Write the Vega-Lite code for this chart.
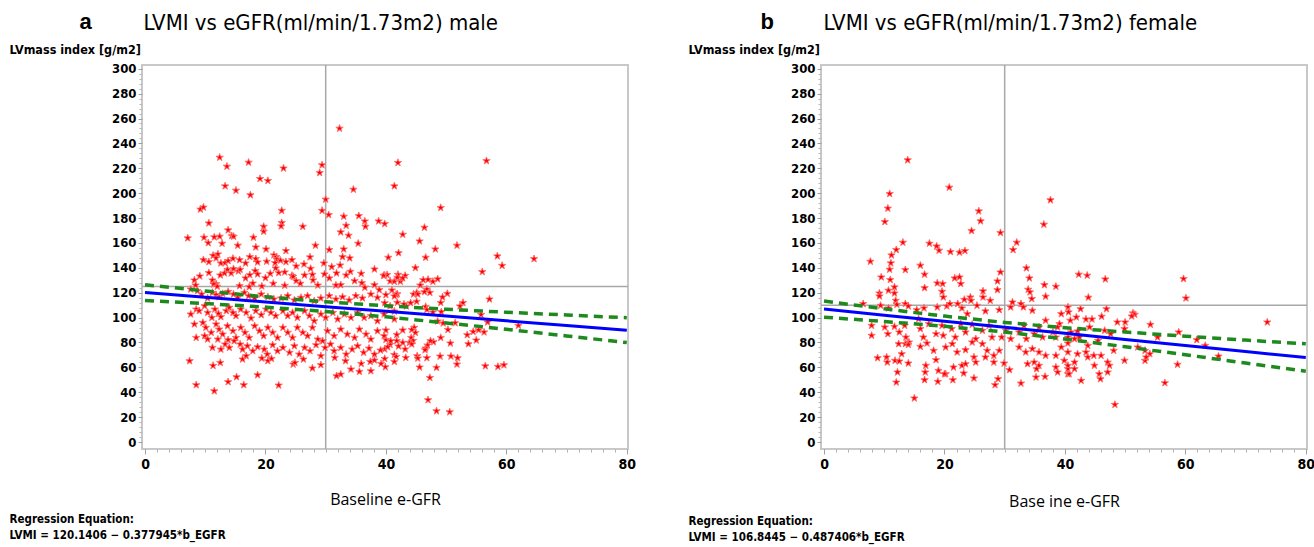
{
  "$schema": "https://vega.github.io/schema/vega-lite/v6.json",
  "background": "white",
  "padding": {"left": 8, "top": 9, "right": 4, "bottom": 2},
  "config": {
    "view": {"stroke": "#c8c8c8", "strokeWidth": 2},
    "axis": {"labelColor": "#000000", "titleColor": "#000000"}
  },
  "datasets": {
    "male": [
      {"egfr":32.3,"lvmi":252},{"egfr":12.4,"lvmi":228.7},{"egfr":13.6,"lvmi":221.5},{"egfr":17.2,"lvmi":224.7},{"egfr":23,"lvmi":220},{"egfr":29.4,"lvmi":222.6},{"egfr":29,"lvmi":216.4},{"egfr":19.1,"lvmi":211.6},{"egfr":20.4,"lvmi":210},{"egfr":13.3,"lvmi":205.7},{"egfr":15.1,"lvmi":202.2},{"egfr":17.5,"lvmi":198.5},{"egfr":34.6,"lvmi":203},{"egfr":42,"lvmi":224.5},{"egfr":41.4,"lvmi":205.7},{"egfr":30,"lvmi":195},{"egfr":9.2,"lvmi":187},{"egfr":9.7,"lvmi":188.6},{"egfr":10.6,"lvmi":175.9},{"egfr":22.7,"lvmi":186},{"egfr":29.4,"lvmi":186},{"egfr":30.5,"lvmi":182.6},{"egfr":33,"lvmi":181.3},{"egfr":35.5,"lvmi":181.8},{"egfr":36.5,"lvmi":177.5},{"egfr":36.6,"lvmi":173.2},{"egfr":33.4,"lvmi":174},{"egfr":38.8,"lvmi":177.5},{"egfr":39.8,"lvmi":175.4},{"egfr":32.5,"lvmi":168.7},{"egfr":33.8,"lvmi":166},{"egfr":35.4,"lvmi":159.6},{"egfr":33,"lvmi":155},{"egfr":30.6,"lvmi":154.5},{"egfr":22.7,"lvmi":176.2},{"egfr":22.6,"lvmi":173.5},{"egfr":26.2,"lvmi":173.2},{"egfr":19.7,"lvmi":173.2},{"egfr":19.7,"lvmi":169.2},{"egfr":13.8,"lvmi":170.3},{"egfr":7.1,"lvmi":163.9},{"egfr":9.8,"lvmi":164.4},{"egfr":10.5,"lvmi":160},{"egfr":11.5,"lvmi":164.7},{"egfr":12.4,"lvmi":165.2},{"egfr":14.4,"lvmi":165.7},{"egfr":14.7,"lvmi":165.2},{"egfr":12.8,"lvmi":159.6},{"egfr":15.4,"lvmi":158},{"egfr":18,"lvmi":164.4},{"egfr":18.4,"lvmi":156.6},{"egfr":20.1,"lvmi":155},{"egfr":23.4,"lvmi":153.7},{"egfr":28.3,"lvmi":158},
      {"egfr":56.7,"lvmi":226},{"egfr":49.1,"lvmi":188.3},{"egfr":46.4,"lvmi":172.4},{"egfr":42.8,"lvmi":166.8},{"egfr":45.6,"lvmi":161.4},{"egfr":48.2,"lvmi":155},{"egfr":51.8,"lvmi":158},{"egfr":42.1,"lvmi":152},{"egfr":40.4,"lvmi":148.3},{"egfr":46.6,"lvmi":148.3},{"egfr":58.5,"lvmi":149.4},{"egfr":64.6,"lvmi":147.2},
      {"egfr":59.3,"lvmi":141.8},{"egfr":44.9,"lvmi":140},{"egfr":56,"lvmi":136.8},{"egfr":39.8,"lvmi":134},{"egfr":40.2,"lvmi":134.4},{"egfr":42,"lvmi":134.6},{"egfr":43.2,"lvmi":133.8},{"egfr":40.7,"lvmi":129.3},{"egfr":41.4,"lvmi":129},{"egfr":42.4,"lvmi":129},{"egfr":42.8,"lvmi":131.7},{"egfr":46.2,"lvmi":130.3},{"egfr":47,"lvmi":130.6},{"egfr":47.8,"lvmi":129},{"egfr":48.6,"lvmi":131},{"egfr":45.7,"lvmi":126},{"egfr":46.8,"lvmi":122.8},{"egfr":47.3,"lvmi":120.1},{"egfr":46.4,"lvmi":120.7},{"egfr":41,"lvmi":122},{"egfr":41.9,"lvmi":119},{"egfr":41.7,"lvmi":118.5},{"egfr":41.4,"lvmi":117.2},{"egfr":44.6,"lvmi":118.8},{"egfr":45.1,"lvmi":120},{"egfr":45.3,"lvmi":118.8},{"egfr":50.2,"lvmi":119.3},{"egfr":49.4,"lvmi":116.4},{"egfr":49.1,"lvmi":112},{"egfr":52.8,"lvmi":112},{"egfr":52.3,"lvmi":109.2},{"egfr":57.2,"lvmi":114.8},{"egfr":45.1,"lvmi":112.9},{"egfr":44.1,"lvmi":111.8},{"egfr":43.4,"lvmi":109.2},{"egfr":43,"lvmi":110.8},{"egfr":39.8,"lvmi":111.8},{"egfr":40.7,"lvmi":109.2},{"egfr":41.4,"lvmi":105.1},{"egfr":46.6,"lvmi":108.8},{"egfr":46.8,"lvmi":106.4},{"egfr":47.8,"lvmi":104.3},{"egfr":49.2,"lvmi":104.6},{"egfr":55.8,"lvmi":102.4},{"egfr":56.9,"lvmi":96.3},{"egfr":62,"lvmi":93.6},{"egfr":51.5,"lvmi":95.7},{"egfr":48.6,"lvmi":97.1},{"egfr":49.5,"lvmi":95.5},{"egfr":50.3,"lvmi":90.3},{"egfr":53.5,"lvmi":86.1},{"egfr":54.5,"lvmi":88.7},{"egfr":55.4,"lvmi":90.1},{"egfr":56.3,"lvmi":88.3},{"egfr":55,"lvmi":81.8},{"egfr":53.7,"lvmi":78.8},{"egfr":50.7,"lvmi":79.4},{"egfr":49.1,"lvmi":83.9},{"egfr":47.9,"lvmi":80.4},{"egfr":47.4,"lvmi":81.3},{"egfr":46.9,"lvmi":77.8},{"egfr":46.6,"lvmi":75.4},{"egfr":46.5,"lvmi":74},{"egfr":44.7,"lvmi":92},{"egfr":44.3,"lvmi":90.3},{"egfr":44.9,"lvmi":87.9},{"egfr":44.2,"lvmi":83.9},{"egfr":44.5,"lvmi":81.5},{"egfr":43.9,"lvmi":79.9},{"egfr":44.3,"lvmi":78.6},{"egfr":42.8,"lvmi":89.9},{"egfr":41.8,"lvmi":86.3},{"egfr":41.8,"lvmi":81.3},{"egfr":42.8,"lvmi":79.9},{"egfr":43.2,"lvmi":74.6},{"egfr":42.1,"lvmi":77},{"egfr":40,"lvmi":89.9},{"egfr":40,"lvmi":82.3},{"egfr":40.7,"lvmi":78.3},{"egfr":39.8,"lvmi":74.6},{"egfr":41.4,"lvmi":70.2},{"egfr":39.8,"lvmi":67},{"egfr":41.7,"lvmi":68.6},{"egfr":39.9,"lvmi":60.3},{"egfr":41.4,"lvmi":64.6},{"egfr":43.3,"lvmi":67.8},{"egfr":45.2,"lvmi":69.2},{"egfr":45.3,"lvmi":67.3},{"egfr":46.8,"lvmi":67.6},{"egfr":45.6,"lvmi":60.1},{"egfr":48.4,"lvmi":59.8},{"egfr":49,"lvmi":68.9},{"egfr":50.8,"lvmi":68.9},{"egfr":51.9,"lvmi":67.6},{"egfr":51.8,"lvmi":62.5},{"egfr":56.5,"lvmi":61.1},{"egfr":58.6,"lvmi":60.6},{"egfr":59.6,"lvmi":61.9},{"egfr":47.3,"lvmi":51.7},{"egfr":47,"lvmi":33.8},{"egfr":48.4,"lvmi":24.9},{"egfr":50.6,"lvmi":24.1},
      {"egfr":32.8,"lvmi":148.8},{"egfr":34,"lvmi":147.8},
      {"egfr":9.7,"lvmi":146.4},{"egfr":10.6,"lvmi":144.8},{"egfr":11.3,"lvmi":149.9},{"egfr":12.1,"lvmi":151},{"egfr":11.8,"lvmi":147.8},{"egfr":12.6,"lvmi":143.7},{"egfr":13.3,"lvmi":144},{"egfr":13.8,"lvmi":145.6},{"egfr":14.6,"lvmi":147.5},{"egfr":15.7,"lvmi":146.4},{"egfr":16.7,"lvmi":143.7},{"egfr":17.4,"lvmi":148.8},{"egfr":18.4,"lvmi":147.2},{"egfr":18.7,"lvmi":144.5},{"egfr":20.2,"lvmi":145.1},{"egfr":21.4,"lvmi":150.2},{"egfr":21.8,"lvmi":148.8},{"egfr":21.9,"lvmi":146.9},{"egfr":21.6,"lvmi":144},{"egfr":22.5,"lvmi":145.9},{"egfr":23.4,"lvmi":144.8},{"egfr":24.4,"lvmi":146.4},{"egfr":25.1,"lvmi":141.3},{"egfr":26.4,"lvmi":142.9},{"egfr":27.4,"lvmi":148.6},{"egfr":29.7,"lvmi":143.7},{"egfr":31,"lvmi":140.8},{"egfr":32.4,"lvmi":142.1},{"egfr":34.1,"lvmi":137},{"egfr":35.9,"lvmi":135.4},{"egfr":38.1,"lvmi":138.9},{"egfr":39.6,"lvmi":133.8},{"egfr":41.9,"lvmi":132.2},
      {"egfr":8.2,"lvmi":130.1},{"egfr":8.4,"lvmi":126},{"egfr":9.1,"lvmi":133.3},{"egfr":10.6,"lvmi":136},{"egfr":11.2,"lvmi":130.1},{"egfr":11.8,"lvmi":127.1},{"egfr":12.5,"lvmi":134.1},{"egfr":13.2,"lvmi":135.7},{"egfr":13.7,"lvmi":138.6},{"egfr":14.3,"lvmi":135.7},{"egfr":14.7,"lvmi":139.2},{"egfr":15.5,"lvmi":137.3},{"egfr":15.8,"lvmi":138.6},{"egfr":16.7,"lvmi":131.7},{"egfr":17.4,"lvmi":134.3},{"egfr":17.9,"lvmi":127.6},{"egfr":18.3,"lvmi":137.6},{"egfr":18.7,"lvmi":134.9},{"egfr":20,"lvmi":131.9},{"egfr":20.8,"lvmi":135.4},{"egfr":22.2,"lvmi":136},{"egfr":21.7,"lvmi":139.7},{"egfr":23.2,"lvmi":136.5},{"egfr":24.4,"lvmi":133.8},{"egfr":24.6,"lvmi":133},{"egfr":25.1,"lvmi":129.5},{"egfr":25.8,"lvmi":127.4},{"egfr":26.5,"lvmi":134.1},{"egfr":27.5,"lvmi":139.4},{"egfr":27.8,"lvmi":134.6},{"egfr":27.9,"lvmi":130.1},{"egfr":29.8,"lvmi":134.9},{"egfr":30.6,"lvmi":131.7},{"egfr":31.8,"lvmi":135.7},{"egfr":32.5,"lvmi":126.3},{"egfr":33.4,"lvmi":134.1},{"egfr":34.8,"lvmi":129.5},{"egfr":36,"lvmi":127.9},{"egfr":36.5,"lvmi":124.2},{"egfr":38.1,"lvmi":126.3},{"egfr":38.9,"lvmi":122.3},
      {"egfr":11.4,"lvmi":126.8},{"egfr":12,"lvmi":125},{"egfr":15.7,"lvmi":125.5},{"egfr":17.3,"lvmi":124.7},{"egfr":19.4,"lvmi":125.2},{"egfr":21.3,"lvmi":127.4},{"egfr":23.2,"lvmi":125.8},{"egfr":28.7,"lvmi":126},{"egfr":31.7,"lvmi":126},
      {"egfr":7.6,"lvmi":122.8},{"egfr":8.7,"lvmi":121.5},{"egfr":9.4,"lvmi":118.8},{"egfr":10.4,"lvmi":115.6},{"egfr":11.2,"lvmi":120.1},{"egfr":11.8,"lvmi":118.3},{"egfr":12.3,"lvmi":116.6},{"egfr":12.9,"lvmi":119.3},{"egfr":13.8,"lvmi":120.9},{"egfr":14.7,"lvmi":118.8},{"egfr":15.4,"lvmi":116.1},{"egfr":16.5,"lvmi":120.1},{"egfr":17.2,"lvmi":117.4},{"egfr":18.2,"lvmi":115.6},{"egfr":19.3,"lvmi":118.8},{"egfr":20.4,"lvmi":116.6},{"egfr":21.4,"lvmi":114.8},{"egfr":22.6,"lvmi":115.6},{"egfr":23.7,"lvmi":117.5},{"egfr":24.8,"lvmi":114},{"egfr":25.9,"lvmi":116.1},{"egfr":27,"lvmi":117.5},{"egfr":28.1,"lvmi":113.4},{"egfr":29.2,"lvmi":115.6},{"egfr":30.6,"lvmi":117.5},{"egfr":31.7,"lvmi":114.8},{"egfr":32.8,"lvmi":116.6},{"egfr":33.9,"lvmi":114},{"egfr":35,"lvmi":117.5},{"egfr":36.1,"lvmi":115.6},{"egfr":37.5,"lvmi":118.8},{"egfr":38.6,"lvmi":116.1},{"egfr":40,"lvmi":118.3},{"egfr":41.9,"lvmi":112.1},
      {"egfr":7.6,"lvmi":102.7},{"egfr":8.5,"lvmi":106.7},{"egfr":9,"lvmi":105.4},{"egfr":9.9,"lvmi":109.4},{"egfr":10.4,"lvmi":104},{"egfr":11.1,"lvmi":100},{"egfr":11.6,"lvmi":106.7},{"egfr":12.2,"lvmi":103.2},{"egfr":12.6,"lvmi":100.6},{"egfr":13.5,"lvmi":105.4},{"egfr":14,"lvmi":108.1},{"egfr":14.6,"lvmi":104},{"egfr":15.1,"lvmi":101.4},{"egfr":15.9,"lvmi":106.7},{"egfr":16.8,"lvmi":104},{"egfr":17.6,"lvmi":99.5},{"egfr":18.4,"lvmi":105.4},{"egfr":19.3,"lvmi":102.2},{"egfr":20.1,"lvmi":106.7},{"egfr":20.9,"lvmi":104},{"egfr":21.7,"lvmi":101.4},{"egfr":22.9,"lvmi":105.4},{"egfr":23.7,"lvmi":101.4},{"egfr":24.5,"lvmi":104},{"egfr":25.3,"lvmi":100},{"egfr":26.5,"lvmi":105.4},{"egfr":27.3,"lvmi":101.4},{"egfr":28.1,"lvmi":97.3},{"egfr":29.2,"lvmi":102.7},{"egfr":30,"lvmi":100},{"egfr":31.2,"lvmi":104},{"egfr":32,"lvmi":98.7},{"egfr":33.1,"lvmi":102.7},{"egfr":34.2,"lvmi":100},{"egfr":35.3,"lvmi":104},{"egfr":36.4,"lvmi":100},{"egfr":37.5,"lvmi":101.4},{"egfr":38.6,"lvmi":97.3},{"egfr":39.7,"lvmi":102.7},{"egfr":41.4,"lvmi":98.7},
      {"egfr":8.2,"lvmi":94.7},{"egfr":9.6,"lvmi":96},{"egfr":10.1,"lvmi":92},{"egfr":11,"lvmi":88},{"egfr":11.8,"lvmi":94.7},{"egfr":12.3,"lvmi":90.6},{"egfr":12.9,"lvmi":86.6},{"egfr":13.7,"lvmi":93.3},{"egfr":14.6,"lvmi":89.3},{"egfr":15.1,"lvmi":83.9},{"egfr":15.9,"lvmi":92},{"egfr":16.6,"lvmi":88},{"egfr":17.3,"lvmi":83.9},{"egfr":18.2,"lvmi":93.3},{"egfr":19,"lvmi":89.3},{"egfr":19.7,"lvmi":85.3},{"egfr":20.4,"lvmi":92},{"egfr":21.2,"lvmi":88},{"egfr":22,"lvmi":83.9},{"egfr":22.9,"lvmi":92},{"egfr":23.7,"lvmi":88},{"egfr":24.5,"lvmi":83.9},{"egfr":25.3,"lvmi":92},{"egfr":26.2,"lvmi":88},{"egfr":27,"lvmi":85.3},{"egfr":27.8,"lvmi":92},{"egfr":28.7,"lvmi":82.6},{"egfr":29.5,"lvmi":81.2},{"egfr":30.3,"lvmi":89.3},{"egfr":31.4,"lvmi":85.3},{"egfr":32.5,"lvmi":90.6},{"egfr":33.6,"lvmi":86.6},{"egfr":34.8,"lvmi":83.9},{"egfr":35.6,"lvmi":90.6},{"egfr":36.7,"lvmi":86.6},{"egfr":37.5,"lvmi":82.6},{"egfr":38.6,"lvmi":89.3},{"egfr":39.7,"lvmi":85.3},{"egfr":40.8,"lvmi":81.2},{"egfr":8.5,"lvmi":83.9},{"egfr":9.9,"lvmi":85.3},{"egfr":10.4,"lvmi":82.6},{"egfr":12.1,"lvmi":82.6},{"egfr":13.8,"lvmi":82.1},
      {"egfr":12.6,"lvmi":74.5},{"egfr":11.2,"lvmi":75.9},{"egfr":13.3,"lvmi":78.6},{"egfr":14,"lvmi":75.9},{"egfr":14.8,"lvmi":81.2},{"egfr":15.8,"lvmi":78.6},{"egfr":16.2,"lvmi":74.5},{"egfr":17,"lvmi":77.2},{"egfr":17.9,"lvmi":73.2},{"egfr":18.7,"lvmi":76.4},{"egfr":19.8,"lvmi":74.5},{"egfr":20.3,"lvmi":70.5},{"egfr":21.2,"lvmi":78},{"egfr":22,"lvmi":73.2},{"egfr":22.9,"lvmi":75.9},{"egfr":24,"lvmi":71.9},{"egfr":24.8,"lvmi":77.2},{"egfr":25.6,"lvmi":70.5},{"egfr":26.5,"lvmi":75.9},{"egfr":27.4,"lvmi":73.2},{"egfr":28.4,"lvmi":78},{"egfr":29.2,"lvmi":69.2},{"egfr":29.9,"lvmi":75.9},{"egfr":30.8,"lvmi":78.6},{"egfr":31.4,"lvmi":73.2},{"egfr":32.5,"lvmi":75.9},{"egfr":33.4,"lvmi":70.5},{"egfr":34.4,"lvmi":74.5},{"egfr":35.3,"lvmi":77.2},{"egfr":36.3,"lvmi":71.9},{"egfr":37.2,"lvmi":75.3},{"egfr":38.1,"lvmi":70.5},{"egfr":39.1,"lvmi":73.7},{"egfr":40.3,"lvmi":76.4},
      {"egfr":7.4,"lvmi":65.2},{"egfr":11.3,"lvmi":61.4},{"egfr":12.5,"lvmi":63.8},{"egfr":16.2,"lvmi":66.5},{"egfr":16.8,"lvmi":69.2},{"egfr":19.4,"lvmi":67.3},{"egfr":20.4,"lvmi":65.2},{"egfr":21,"lvmi":67},{"egfr":24.6,"lvmi":62.5},{"egfr":24.9,"lvmi":63.8},{"egfr":26.3,"lvmi":66.5},{"egfr":27.8,"lvmi":59.3},{"egfr":29.2,"lvmi":62},{"egfr":31.5,"lvmi":67.8},{"egfr":33.3,"lvmi":65.2},{"egfr":35.9,"lvmi":63},{"egfr":37.4,"lvmi":64.6},{"egfr":38.1,"lvmi":65.7},
      {"egfr":8.5,"lvmi":45.9},{"egfr":11.5,"lvmi":41},{"egfr":13.8,"lvmi":48.3},{"egfr":15.2,"lvmi":52.3},{"egfr":16.4,"lvmi":45.9},{"egfr":18.7,"lvmi":53.9},{"egfr":22.2,"lvmi":45.6},{"egfr":31.8,"lvmi":53.1},{"egfr":32.5,"lvmi":54.4},{"egfr":34.2,"lvmi":58.5},{"egfr":35.6,"lvmi":56.6},{"egfr":37.5,"lvmi":57.1},{"egfr":39.2,"lvmi":63}
    ],
    "female": [
      {"egfr":13.9,"lvmi":226.6},{"egfr":10.9,"lvmi":199.5},{"egfr":10.6,"lvmi":187.8},{"egfr":10.1,"lvmi":177},{"egfr":20.8,"lvmi":204.6},{"egfr":37.6,"lvmi":194.5},{"egfr":25.7,"lvmi":185.6},{"egfr":26,"lvmi":177.6},{"egfr":24.5,"lvmi":169.8},{"egfr":29.3,"lvmi":168.2},{"egfr":36.5,"lvmi":174.9},{"egfr":32,"lvmi":160.4},{"egfr":31.4,"lvmi":154.5},{"egfr":13.1,"lvmi":160.4},{"egfr":12,"lvmi":154.5},{"egfr":11.2,"lvmi":150.2},{"egfr":17.5,"lvmi":159.6},{"egfr":18.7,"lvmi":157.4},{"egfr":19.1,"lvmi":154},{"egfr":21,"lvmi":152.9},{"egfr":22.5,"lvmi":152.4},{"egfr":23.4,"lvmi":153.7},
      {"egfr":7.7,"lvmi":145.1},{"egfr":11.1,"lvmi":143.8},{"egfr":10.9,"lvmi":138.7},{"egfr":13.5,"lvmi":138.4},{"egfr":16,"lvmi":141.9},{"egfr":16.7,"lvmi":134.7},{"egfr":9.5,"lvmi":132.5},{"egfr":11,"lvmi":130.4},{"egfr":9.2,"lvmi":119.6},{"egfr":9.2,"lvmi":117.2},{"egfr":10.7,"lvmi":121.8},{"egfr":11.7,"lvmi":124.5},{"egfr":11.7,"lvmi":119.6},{"egfr":11.9,"lvmi":113.7},{"egfr":16.7,"lvmi":123.9},{"egfr":18.8,"lvmi":127.7},{"egfr":19.7,"lvmi":127.2},{"egfr":19.6,"lvmi":121},{"egfr":19.8,"lvmi":116.4},{"egfr":21.7,"lvmi":131.7},{"egfr":22.5,"lvmi":132.5},{"egfr":22.7,"lvmi":127.2},{"egfr":23.3,"lvmi":114.5},{"egfr":24.3,"lvmi":116.4},{"egfr":24.4,"lvmi":113.7},{"egfr":26.4,"lvmi":121.3},{"egfr":26.4,"lvmi":116.4},{"egfr":27.6,"lvmi":113.7},{"egfr":28.8,"lvmi":129.3},{"egfr":29.3,"lvmi":136.5},{"egfr":28.8,"lvmi":122.3},{"egfr":33.6,"lvmi":139.8},{"egfr":34.1,"lvmi":131.7},{"egfr":33.9,"lvmi":122.6},{"egfr":34.2,"lvmi":120.5},{"egfr":34.5,"lvmi":115.1},{"egfr":36.6,"lvmi":126.3},{"egfr":38.5,"lvmi":125},{"egfr":36.8,"lvmi":117},
      {"egfr":6.5,"lvmi":111.1},{"egfr":9.4,"lvmi":109.7},{"egfr":10.7,"lvmi":107.6},{"egfr":12.1,"lvmi":110.5},{"egfr":13.5,"lvmi":111.1},{"egfr":14,"lvmi":109.2},{"egfr":15.4,"lvmi":106.2},{"egfr":16.6,"lvmi":107.6},{"egfr":18.8,"lvmi":108.4},{"egfr":20.4,"lvmi":109.2},{"egfr":20.9,"lvmi":111.1},{"egfr":22.2,"lvmi":111.1},{"egfr":22.9,"lvmi":107.6},{"egfr":23.8,"lvmi":103},{"egfr":25.4,"lvmi":109.7},{"egfr":26.8,"lvmi":105.2},{"egfr":29.1,"lvmi":106.2},{"egfr":31,"lvmi":108.4},{"egfr":31.3,"lvmi":112.4},{"egfr":32.7,"lvmi":111.1},{"egfr":33.1,"lvmi":108.4},{"egfr":34.6,"lvmi":105.7},{"egfr":36.8,"lvmi":97.7},{"egfr":39.4,"lvmi":103},{"egfr":40.5,"lvmi":108.4},
      {"egfr":7.9,"lvmi":93.6},{"egfr":7.9,"lvmi":85.6},{"egfr":10.1,"lvmi":92.3},{"egfr":10.6,"lvmi":86.9},{"egfr":11.7,"lvmi":92.8},{"egfr":12.5,"lvmi":88.3},{"egfr":13.4,"lvmi":93.6},{"egfr":13.6,"lvmi":84.2},{"egfr":14.1,"lvmi":80.2},{"egfr":15.7,"lvmi":99},{"egfr":16,"lvmi":91},{"egfr":16.5,"lvmi":84.2},{"egfr":17.4,"lvmi":95},{"egfr":18.6,"lvmi":86.9},{"egfr":19.6,"lvmi":93.6},{"egfr":19.8,"lvmi":85.6},{"egfr":21.2,"lvmi":91},{"egfr":21.8,"lvmi":84.2},{"egfr":22.7,"lvmi":95},{"egfr":23.5,"lvmi":88.3},{"egfr":24.6,"lvmi":94.4},{"egfr":25.2,"lvmi":82.9},{"egfr":26.3,"lvmi":89.6},{"egfr":27.4,"lvmi":93.6},{"egfr":27.9,"lvmi":84.2},{"egfr":29.5,"lvmi":84.2},{"egfr":30.2,"lvmi":89.6},{"egfr":31,"lvmi":82.9},{"egfr":32.4,"lvmi":88.3},{"egfr":33.2,"lvmi":93.6},{"egfr":33.6,"lvmi":82.9},{"egfr":34.9,"lvmi":86.9},{"egfr":35.7,"lvmi":92.3},{"egfr":36.3,"lvmi":84.2},{"egfr":38,"lvmi":88.3},{"egfr":39.1,"lvmi":95},{"egfr":40.5,"lvmi":84.2},
      {"egfr":12.4,"lvmi":78.9},{"egfr":13.5,"lvmi":78.9},{"egfr":14,"lvmi":78.3},{"egfr":16,"lvmi":76.7},{"egfr":17.1,"lvmi":79.4},{"egfr":18.2,"lvmi":73.5},{"egfr":20.2,"lvmi":76.2},{"egfr":21.3,"lvmi":78.9},{"egfr":22.1,"lvmi":72.2},{"egfr":23.5,"lvmi":74.1},{"egfr":24.6,"lvmi":80.2},{"egfr":26.3,"lvmi":78.9},{"egfr":27.1,"lvmi":73.5},{"egfr":28.2,"lvmi":69.5},{"egfr":29.1,"lvmi":73.5},{"egfr":32.4,"lvmi":76.2},{"egfr":33.5,"lvmi":72.2},{"egfr":34.6,"lvmi":74.9},{"egfr":35.7,"lvmi":72.2},{"egfr":36.8,"lvmi":69.5},{"egfr":38.5,"lvmi":69.5},{"egfr":39.4,"lvmi":76.2},{"egfr":40.5,"lvmi":72.2},
      {"egfr":8.9,"lvmi":67.6},{"egfr":10.4,"lvmi":68.2},{"egfr":10.5,"lvmi":64.1},{"egfr":11.8,"lvmi":65.5},{"egfr":12.5,"lvmi":64.9},{"egfr":12.9,"lvmi":70.8},{"egfr":14,"lvmi":63.3},{"egfr":16.9,"lvmi":61.5},{"egfr":18.6,"lvmi":66},{"egfr":19,"lvmi":57.4},{"egfr":20.2,"lvmi":54.7},{"egfr":21.5,"lvmi":60.1},{"egfr":22.9,"lvmi":61.5},{"egfr":23.5,"lvmi":62.8},{"egfr":24.9,"lvmi":68.2},{"egfr":25.2,"lvmi":64.1},{"egfr":26.8,"lvmi":68.2},{"egfr":28.2,"lvmi":64.1},{"egfr":29.9,"lvmi":63.3},{"egfr":30.8,"lvmi":58},{"egfr":33.8,"lvmi":62.8},{"egfr":34.9,"lvmi":64.1},{"egfr":35.7,"lvmi":61.5},{"egfr":35.3,"lvmi":58.8},{"egfr":38.5,"lvmi":60.1},{"egfr":38.8,"lvmi":56.1},{"egfr":40.5,"lvmi":54.7},{"egfr":40.5,"lvmi":58.8},
      {"egfr":12.2,"lvmi":56.1},{"egfr":12,"lvmi":48},{"egfr":16.8,"lvmi":56.1},{"egfr":16.7,"lvmi":49.9},{"egfr":18.9,"lvmi":48.6},{"egfr":20,"lvmi":54.7},{"egfr":21.4,"lvmi":49.9},{"egfr":23.2,"lvmi":55.3},{"egfr":24.9,"lvmi":51.3},{"egfr":28.4,"lvmi":45.9},{"egfr":28.9,"lvmi":50.7},{"egfr":32.7,"lvmi":47.2},{"egfr":35.2,"lvmi":52.1},{"egfr":36.7,"lvmi":52.6},{"egfr":15,"lvmi":35.2},
      {"egfr":42.3,"lvmi":134.7},{"egfr":43.7,"lvmi":133.9},{"egfr":46.7,"lvmi":130.9},{"egfr":59.7,"lvmi":131.2},{"egfr":60.1,"lvmi":115.6},{"egfr":43.9,"lvmi":116.2},{"egfr":40.6,"lvmi":104.4},{"egfr":42.6,"lvmi":107},{"egfr":46.9,"lvmi":107},{"egfr":40.9,"lvmi":97.7},{"egfr":41.9,"lvmi":100.3},{"egfr":43.5,"lvmi":98.7},{"egfr":44.5,"lvmi":98.7},{"egfr":46.1,"lvmi":100.9},{"egfr":51.3,"lvmi":103.6},{"egfr":51.6,"lvmi":102.5},{"egfr":51.1,"lvmi":101.1},{"egfr":48.7,"lvmi":96.3},{"egfr":50,"lvmi":96.3},{"egfr":54.2,"lvmi":94.4},{"egfr":73.6,"lvmi":96.3},{"egfr":38.8,"lvmi":92.3},{"egfr":41,"lvmi":88.3},{"egfr":42.1,"lvmi":89.1},{"egfr":44.1,"lvmi":92.3},{"egfr":46.6,"lvmi":89.6},{"egfr":47.6,"lvmi":86.9},{"egfr":49.9,"lvmi":91},{"egfr":58.9,"lvmi":88.3},{"egfr":55.4,"lvmi":84.2},{"egfr":61.9,"lvmi":82.1},{"egfr":63.3,"lvmi":77.5},{"egfr":38.5,"lvmi":84.2},{"egfr":40.5,"lvmi":79.4},{"egfr":41.6,"lvmi":82.9},{"egfr":42.4,"lvmi":84.2},{"egfr":43.8,"lvmi":77.5},{"egfr":45.5,"lvmi":81.6},{"egfr":48.1,"lvmi":73.5},{"egfr":52.1,"lvmi":76.2},{"egfr":53.3,"lvmi":73.5},{"egfr":54.1,"lvmi":70.8},{"egfr":65.5,"lvmi":68.9},{"egfr":39.9,"lvmi":65.5},{"egfr":40.5,"lvmi":61.5},{"egfr":41.6,"lvmi":64.1},{"egfr":42.1,"lvmi":70.8},{"egfr":43.5,"lvmi":72.2},{"egfr":43.8,"lvmi":68.2},{"egfr":44.8,"lvmi":69.5},{"egfr":44.9,"lvmi":61.5},{"egfr":46,"lvmi":69.5},{"egfr":47.1,"lvmi":64.1},{"egfr":47.4,"lvmi":61.5},{"egfr":49.9,"lvmi":65.5},{"egfr":53.3,"lvmi":65.5},{"egfr":53.5,"lvmi":68.2},{"egfr":40.7,"lvmi":54.7},{"egfr":41.6,"lvmi":58.8},{"egfr":42.7,"lvmi":49.4},{"egfr":45.7,"lvmi":54.7},{"egfr":45.9,"lvmi":50.7},{"egfr":47.1,"lvmi":56.1},{"egfr":58.7,"lvmi":62.3},{"egfr":56.6,"lvmi":47.5},{"egfr":48.3,"lvmi":30.1}
    ],
    "malefit": [
      {"egfr":0,"fit":120.14,"lo":113.8,"hi":126.4},{"egfr":10,"fit":116.36,"lo":111.3,"hi":121.4},{"egfr":20,"fit":112.58,"lo":108.4,"hi":116.7},{"egfr":30,"fit":108.8,"lo":104.9,"hi":112.7},{"egfr":40,"fit":105.02,"lo":100.6,"hi":109.5},{"egfr":50,"fit":101.24,"lo":95.7,"hi":106.7},{"egfr":60,"fit":97.46,"lo":90.6,"hi":104.3},{"egfr":70,"fit":93.68,"lo":85.3,"hi":102.1},{"egfr":80,"fit":89.9,"lo":79.9,"hi":99.9}
    ],
    "femalefit": [
      {"egfr":0,"fit":106.84,"lo":100.3,"hi":113.3},{"egfr":10,"fit":101.97,"lo":96.9,"hi":107.0},{"egfr":20,"fit":97.09,"lo":93.0,"hi":101.2},{"egfr":30,"fit":92.22,"lo":88.4,"hi":96.1},{"egfr":40,"fit":87.35,"lo":82.8,"hi":91.9},{"egfr":50,"fit":82.47,"lo":76.6,"hi":88.4},{"egfr":60,"fit":77.6,"lo":70.1,"hi":85.1},{"egfr":70,"fit":72.73,"lo":63.5,"hi":81.9},{"egfr":80,"fit":67.85,"lo":56.9,"hi":78.9}
    ]
  },
  "spacing": 50,
  "hconcat": [
    {
      "width": 486,
      "height": 384,
      "resolve": {"axis": {"x": "independent", "y": "independent"}},
      "layer": [
        {
          "data": {"values": [{"ref": 30}]},
          "mark": {"type": "rule", "color": "#a8a8a8", "strokeWidth": 1.5},
          "encoding": {"x": {"field": "ref", "type": "quantitative", "scale": {"domain": [-0.5, 80.2], "nice": false, "zero": false}, "axis": {"orient": "bottom", "values": [0,2,4,6,8,10,12,14,16,18,20,22,24,26,28,30,32,34,36,38,40,42,44,46,48,50,52,54,56,58,60,62,64,66,68,70,72,74,76,78,80], "labels": false, "tickSize": 3, "tickColor": "#b0b0b0", "domain": false, "grid": false, "title": ["Regression Equation:", "LVMI =  120.1406 − 0.377945*b_EGFR"], "titleX": -133, "titleY": 64, "titleAlign": "left", "titleBaseline": "top", "titleFont": "DejaVu Sans Condensed", "titleFontSize": 11.5, "titleFontWeight": "bold", "titleLineHeight": 16}}}
        },
        {
          "data": {"values": [{"ref": 125}]},
          "mark": {"type": "rule", "color": "#a8a8a8", "strokeWidth": 1.5},
          "encoding": {"y": {"field": "ref", "type": "quantitative", "scale": {"domain": [-5.6, 303], "nice": false, "zero": false}, "axis": {"orient": "left", "values": [0,4,8,12,16,20,24,28,32,36,40,44,48,52,56,60,64,68,72,76,80,84,88,92,96,100,104,108,112,116,120,124,128,132,136,140,144,148,152,156,160,164,168,172,176,180,184,188,192,196,200,204,208,212,216,220,224,228,232,236,240,244,248,252,256,260,264,268,272,276,280,284,288,292,296,300], "labels": false, "tickSize": 3, "tickColor": "#b8b8b8", "domain": false, "grid": false, "title": "a", "titleAngle": 0, "titleX": -63, "titleY": -37, "titleAlign": "left", "titleBaseline": "alphabetic", "titleFont": "Liberation Sans", "titleFontSize": 22, "titleFontWeight": "bold"}}}
        },
        {
          "data": {"name": "male"},
          "mark": {"type": "point", "shape": "M0,-1L0.235,-0.324L0.951,-0.309L0.38,0.124L0.588,0.809L0,0.4L-0.588,0.809L-0.38,0.124L-0.951,-0.309L-0.235,-0.324Z", "filled": true, "fill": "#ff0000", "stroke": "#ff7070", "strokeWidth": 0.9, "size": 60, "opacity": 1},
          "encoding": {
            "x": {"field": "egfr", "type": "quantitative", "scale": {"domain": [-0.5, 80.2], "nice": false, "zero": false}, "axis": {"orient": "bottom", "values": [0,20,40,60,80], "title": "Baseline e-GFR", "titleFont": "Open Sans", "titleFontSize": 16, "titleFontWeight": "normal", "titlePadding": 20, "labelFont": "DejaVu Sans Condensed", "labelFontSize": 14, "labelFontWeight": "bold", "labelPadding": 3, "tickSize": 5, "tickColor": "#a0a0a0", "domain": false, "grid": false}},
            "y": {"field": "lvmi", "type": "quantitative", "scale": {"domain": [-5.6, 303], "nice": false, "zero": false}, "axis": {"orient": "left", "values": [0,20,40,60,80,100,120,140,160,180,200,220,240,260,280,300], "title": "LVmass index [g/m2]", "titleAngle": 0, "titleAlign": "left", "titleBaseline": "alphabetic", "titleX": -133, "titleY": -12, "titleFont": "DejaVu Sans Condensed", "titleFontSize": 12.5, "titleFontWeight": "bold", "labelFont": "DejaVu Sans Condensed", "labelFontSize": 13, "labelFontWeight": "bold", "labelPadding": 2, "tickSize": 4, "tickColor": "#a0a0a0", "domain": false, "grid": false}}
          }
        },
        {
          "data": {"name": "malefit"},
          "mark": {"type": "line", "color": "#1e8a1e", "strokeWidth": 3.5, "strokeDash": [9, 6]},
          "encoding": {"x": {"field": "egfr", "type": "quantitative", "axis": null}, "y": {"field": "hi", "type": "quantitative", "axis": null}}
        },
        {
          "data": {"name": "malefit"},
          "mark": {"type": "line", "color": "#1e8a1e", "strokeWidth": 3.5, "strokeDash": [9, 6]},
          "encoding": {"x": {"field": "egfr", "type": "quantitative", "axis": null}, "y": {"field": "lo", "type": "quantitative", "axis": null}}
        },
        {
          "data": {"name": "malefit"},
          "mark": {"type": "line", "color": "#0000ff", "strokeWidth": 3},
          "encoding": {
            "x": {"field": "egfr", "type": "quantitative", "axis": {"orient": "top", "ticks": false, "labels": false, "domain": false, "grid": false, "title": "LVMI vs eGFR(ml/min/1.73m2) male", "titleX": 1, "titleY": -36, "titleAlign": "left", "titleBaseline": "alphabetic", "titleFont": "DejaVu Sans Condensed", "titleFontSize": 22, "titleFontWeight": "normal"}},
            "y": {"field": "fit", "type": "quantitative", "axis": null}
          }
        }
      ]
    },
    {
      "width": 486,
      "height": 384,
      "resolve": {"axis": {"x": "independent", "y": "independent"}},
      "layer": [
        {
          "data": {"values": [{"ref": 30}]},
          "mark": {"type": "rule", "color": "#a8a8a8", "strokeWidth": 1.5},
          "encoding": {"x": {"field": "ref", "type": "quantitative", "scale": {"domain": [-0.5, 80.2], "nice": false, "zero": false}, "axis": {"orient": "bottom", "values": [0,2,4,6,8,10,12,14,16,18,20,22,24,26,28,30,32,34,36,38,40,42,44,46,48,50,52,54,56,58,60,62,64,66,68,70,72,74,76,78,80], "labels": false, "tickSize": 3, "tickColor": "#b0b0b0", "domain": false, "grid": false, "title": ["Regression Equation:", "LVMI =  106.8445 − 0.487406*b_EGFR"], "titleX": -133, "titleY": 66, "titleAlign": "left", "titleBaseline": "top", "titleFont": "DejaVu Sans Condensed", "titleFontSize": 11.5, "titleFontWeight": "bold", "titleLineHeight": 16}}}
        },
        {
          "data": {"values": [{"ref": 110}]},
          "mark": {"type": "rule", "color": "#a8a8a8", "strokeWidth": 1.5},
          "encoding": {"y": {"field": "ref", "type": "quantitative", "scale": {"domain": [-5.6, 303], "nice": false, "zero": false}, "axis": {"orient": "left", "values": [0,4,8,12,16,20,24,28,32,36,40,44,48,52,56,60,64,68,72,76,80,84,88,92,96,100,104,108,112,116,120,124,128,132,136,140,144,148,152,156,160,164,168,172,176,180,184,188,192,196,200,204,208,212,216,220,224,228,232,236,240,244,248,252,256,260,264,268,272,276,280,284,288,292,296,300], "labels": false, "tickSize": 3, "tickColor": "#b8b8b8", "domain": false, "grid": false, "title": "b", "titleAngle": 0, "titleX": -61, "titleY": -37, "titleAlign": "left", "titleBaseline": "alphabetic", "titleFont": "Liberation Sans", "titleFontSize": 22, "titleFontWeight": "bold"}}}
        },
        {
          "data": {"name": "female"},
          "mark": {"type": "point", "shape": "M0,-1L0.235,-0.324L0.951,-0.309L0.38,0.124L0.588,0.809L0,0.4L-0.588,0.809L-0.38,0.124L-0.951,-0.309L-0.235,-0.324Z", "filled": true, "fill": "#ff0000", "stroke": "#ff7070", "strokeWidth": 0.9, "size": 60, "opacity": 1},
          "encoding": {
            "x": {"field": "egfr", "type": "quantitative", "scale": {"domain": [-0.5, 80.2], "nice": false, "zero": false}, "axis": {"orient": "bottom", "values": [0,20,40,60,80], "title": "Base ine e-GFR", "titleFont": "Open Sans", "titleFontSize": 16, "titleFontWeight": "normal", "titlePadding": 22, "labelFont": "DejaVu Sans Condensed", "labelFontSize": 14, "labelFontWeight": "bold", "labelPadding": 3, "tickSize": 5, "tickColor": "#a0a0a0", "domain": false, "grid": false}},
            "y": {"field": "lvmi", "type": "quantitative", "scale": {"domain": [-5.6, 303], "nice": false, "zero": false}, "axis": {"orient": "left", "values": [0,20,40,60,80,100,120,140,160,180,200,220,240,260,280,300], "title": "LVmass index [g/m2]", "titleAngle": 0, "titleAlign": "left", "titleBaseline": "alphabetic", "titleX": -133, "titleY": -12, "titleFont": "DejaVu Sans Condensed", "titleFontSize": 12.5, "titleFontWeight": "bold", "labelFont": "DejaVu Sans Condensed", "labelFontSize": 13, "labelFontWeight": "bold", "labelPadding": 2, "tickSize": 4, "tickColor": "#a0a0a0", "domain": false, "grid": false}}
          }
        },
        {
          "data": {"name": "femalefit"},
          "mark": {"type": "line", "color": "#1e8a1e", "strokeWidth": 3.5, "strokeDash": [9, 6]},
          "encoding": {"x": {"field": "egfr", "type": "quantitative", "axis": null}, "y": {"field": "hi", "type": "quantitative", "axis": null}}
        },
        {
          "data": {"name": "femalefit"},
          "mark": {"type": "line", "color": "#1e8a1e", "strokeWidth": 3.5, "strokeDash": [9, 6]},
          "encoding": {"x": {"field": "egfr", "type": "quantitative", "axis": null}, "y": {"field": "lo", "type": "quantitative", "axis": null}}
        },
        {
          "data": {"name": "femalefit"},
          "mark": {"type": "line", "color": "#0000ff", "strokeWidth": 3},
          "encoding": {
            "x": {"field": "egfr", "type": "quantitative", "axis": {"orient": "top", "ticks": false, "labels": false, "domain": false, "grid": false, "title": "LVMI vs eGFR(ml/min/1.73m2) female", "titleX": 2, "titleY": -36, "titleAlign": "left", "titleBaseline": "alphabetic", "titleFont": "DejaVu Sans Condensed", "titleFontSize": 22, "titleFontWeight": "normal"}},
            "y": {"field": "fit", "type": "quantitative", "axis": null}
          }
        }
      ]
    }
  ]
}
